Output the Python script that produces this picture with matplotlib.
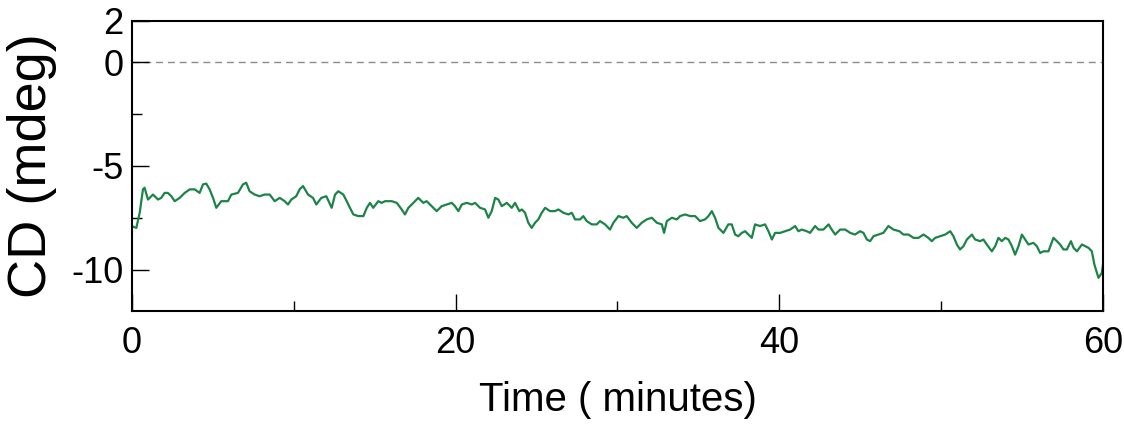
import matplotlib
matplotlib.use("Agg")
import matplotlib.pyplot as plt
from matplotlib.ticker import MultipleLocator, FixedLocator

# CD trace (time in minutes, CD in mdeg)
time_min = [
    0.00, 0.27, 0.48, 0.68, 0.78, 0.99, 1.30, 1.61, 1.81, 2.02,
    2.22, 2.43, 2.64, 2.95, 3.26, 3.57, 3.88, 4.18, 4.39, 4.59,
    4.80, 5.01, 5.21, 5.52, 5.93, 6.14, 6.55, 6.86, 7.06, 7.27,
    7.58, 7.89, 8.20, 8.51, 8.82, 9.13, 9.44, 9.64, 9.85, 10.15,
    10.36, 10.57, 10.88, 11.19, 11.39, 11.70, 12.01,
    12.34, 12.55, 12.75, 13.06, 13.27, 13.47, 13.68, 13.99, 14.30, 14.51,
    14.71, 14.91, 15.22, 15.43, 15.64, 16.05, 16.36, 16.67, 16.87, 17.08,
    17.39, 17.69, 18.00, 18.21, 18.52, 18.83, 19.14, 19.45, 19.76, 19.96,
    20.17, 20.38, 20.69, 21.00, 21.20, 21.51, 21.82, 22.02, 22.23, 22.44,
    22.64, 22.85, 23.16, 23.47, 23.67, 23.94,
    24.09, 24.29, 24.49, 24.70, 24.91, 25.11, 25.32, 25.53, 25.83, 26.14,
    26.35, 26.66, 26.97, 27.18, 27.38, 27.69, 27.89, 28.10, 28.41, 28.72,
    28.92, 29.23, 29.54, 29.75, 30.06, 30.36, 30.57, 30.88, 31.19, 31.50,
    31.81, 32.12, 32.43, 32.74, 32.88, 33.05, 33.36, 33.67, 33.87, 34.18,
    34.49, 34.80, 35.10, 35.41,
    35.62, 35.83, 36.03, 36.24, 36.55, 36.85, 37.06, 37.27, 37.47, 37.68,
    37.89, 38.09, 38.30, 38.50, 38.81, 39.12, 39.33, 39.54, 39.74, 40.05,
    40.36, 40.67, 40.98, 41.18, 41.39, 41.70, 41.90, 42.21, 42.42, 42.73,
    43.04, 43.24, 43.45, 43.76, 44.07, 44.38, 44.68, 44.99, 45.20, 45.41,
    45.61, 45.82, 46.12, 46.43, 46.74, 47.05, 47.42,
    47.67, 47.98, 48.29, 48.60, 48.91, 49.21, 49.42, 49.63, 49.94, 50.25,
    50.56, 50.76, 50.97, 51.17, 51.38, 51.59, 51.90, 52.10, 52.41, 52.61,
    52.82, 53.13, 53.34, 53.54, 53.75, 53.96, 54.16, 54.37, 54.57, 54.78,
    54.99, 55.19, 55.40, 55.70, 55.91, 56.12, 56.32, 56.63, 56.94, 57.15,
    57.35, 57.56, 57.77, 58.02, 58.18, 58.39, 58.70, 58.90, 59.10, 59.31,
    59.47, 59.72, 59.93, 60.00,
]

cd_mdeg = [
    -7.91, -7.99, -7.25, -6.13, -6.05, -6.62, -6.38, -6.62, -6.54, -6.30,
    -6.30, -6.46, -6.70, -6.54, -6.30, -6.13, -6.13, -6.30, -5.89, -5.85,
    -6.13, -6.54, -7.02, -6.70, -6.70, -6.38, -6.30, -5.89, -5.81, -6.22,
    -6.38, -6.46, -6.38, -6.38, -6.70, -6.54, -6.70, -6.86, -6.62, -6.46,
    -6.13, -5.97, -6.38, -6.54, -6.86, -6.54, -6.46,
    -7.02, -6.38, -6.22, -6.38, -6.70, -7.02, -7.34, -7.42, -7.42, -7.02,
    -6.78, -7.02, -6.70, -6.78, -6.70, -6.70, -6.78, -7.10, -7.34, -7.02,
    -6.78, -6.54, -6.78, -6.70, -6.94, -7.18, -6.94, -6.86, -6.78, -6.94,
    -7.18, -6.86, -6.78, -6.86, -6.78, -7.02, -7.10, -7.50, -7.18, -6.54,
    -6.62, -6.94, -6.78, -7.02, -6.78, -7.18,
    -7.10, -7.26, -7.74, -7.99, -7.74, -7.58, -7.26, -7.02, -7.18, -7.18,
    -7.10, -7.26, -7.34, -7.26, -7.58, -7.58, -7.42, -7.66, -7.82, -7.82,
    -7.66, -7.82, -8.07, -7.74, -7.42, -7.50, -7.42, -7.74, -7.99, -7.74,
    -7.58, -7.50, -7.74, -7.82, -8.23, -7.66, -7.50, -7.58, -7.42, -7.34,
    -7.42, -7.42, -7.66, -7.58,
    -7.42, -7.18, -7.50, -7.99, -8.23, -7.82, -7.82, -8.31, -8.39, -8.23,
    -8.15, -8.31, -8.47, -7.82, -7.90, -7.82, -8.15, -8.55, -8.23, -8.23,
    -8.15, -8.07, -7.90, -8.15, -8.07, -8.15, -8.23, -7.90, -8.07, -8.07,
    -7.82, -8.07, -8.31, -8.07, -8.07, -8.23, -8.31, -8.15, -8.23, -8.55,
    -8.63, -8.39, -8.31, -8.23, -7.90, -8.07, -8.15,
    -8.31, -8.31, -8.47, -8.47, -8.31, -8.47, -8.63, -8.47, -8.39, -8.31,
    -8.15, -8.39, -8.79, -9.03, -8.87, -8.55, -8.31, -8.55, -8.63, -8.55,
    -8.79, -9.12, -8.87, -8.47, -8.63, -8.47, -8.55, -8.87, -9.28, -8.87,
    -8.31, -8.55, -8.79, -8.71, -8.87, -9.20, -9.12, -9.12, -8.47, -8.63,
    -8.79, -9.03, -9.03, -8.63, -8.95, -9.12, -8.79, -8.87, -8.95, -9.12,
    -9.76, -10.40, -10.16, -9.76,
]

y_ticks = [-10, -5, 0, 2]
y_minor = [-7.5, -2.5]
x_ticks = [0, 20, 40, 60]

plt.rcParams['font.family'] = ['Liberation Sans', 'DejaVu Sans']
plt.rcParams['axes.unicode_minus'] = False  # plain hyphen like the original

fig = plt.figure(figsize=(11.24, 4.26), dpi=100)
ax = fig.add_axes([0.1174, 0.27, 0.8639, 0.6808])

# zero reference line
ax.axhline(0, color='#8c8c8c', linestyle=(0, (5, 3.5)), linewidth=1.0, zorder=1)

# the trace
ax.plot(time_min, cd_mdeg, color='#1b8446', linewidth=1.6, zorder=2)

ax.set_xlim(0, 60)
ax.set_ylim(-12, 2)

ax.xaxis.set_major_locator(FixedLocator(x_ticks))
ax.xaxis.set_minor_locator(MultipleLocator(10))
ax.yaxis.set_major_locator(FixedLocator(y_ticks))
ax.yaxis.set_minor_locator(FixedLocator(y_minor))

ax.tick_params(axis='both', which='major', direction='in', length=12,
               width=1.0, labelsize=26, color='black')
ax.tick_params(axis='both', which='minor', direction='in', length=7,
               width=1.0, color='black')
ax.tick_params(axis='x', which='major', pad=11)
ax.tick_params(axis='y', which='major', pad=6)

for s in ax.spines.values():
    s.set_linewidth(1.5)

ax.set_xlabel("Time ( minutes)", fontsize=29, labelpad=14)
ax.set_ylabel("CD (mdeg)", fontsize=39, labelpad=10)

fig.savefig("out.png", dpi=100)
